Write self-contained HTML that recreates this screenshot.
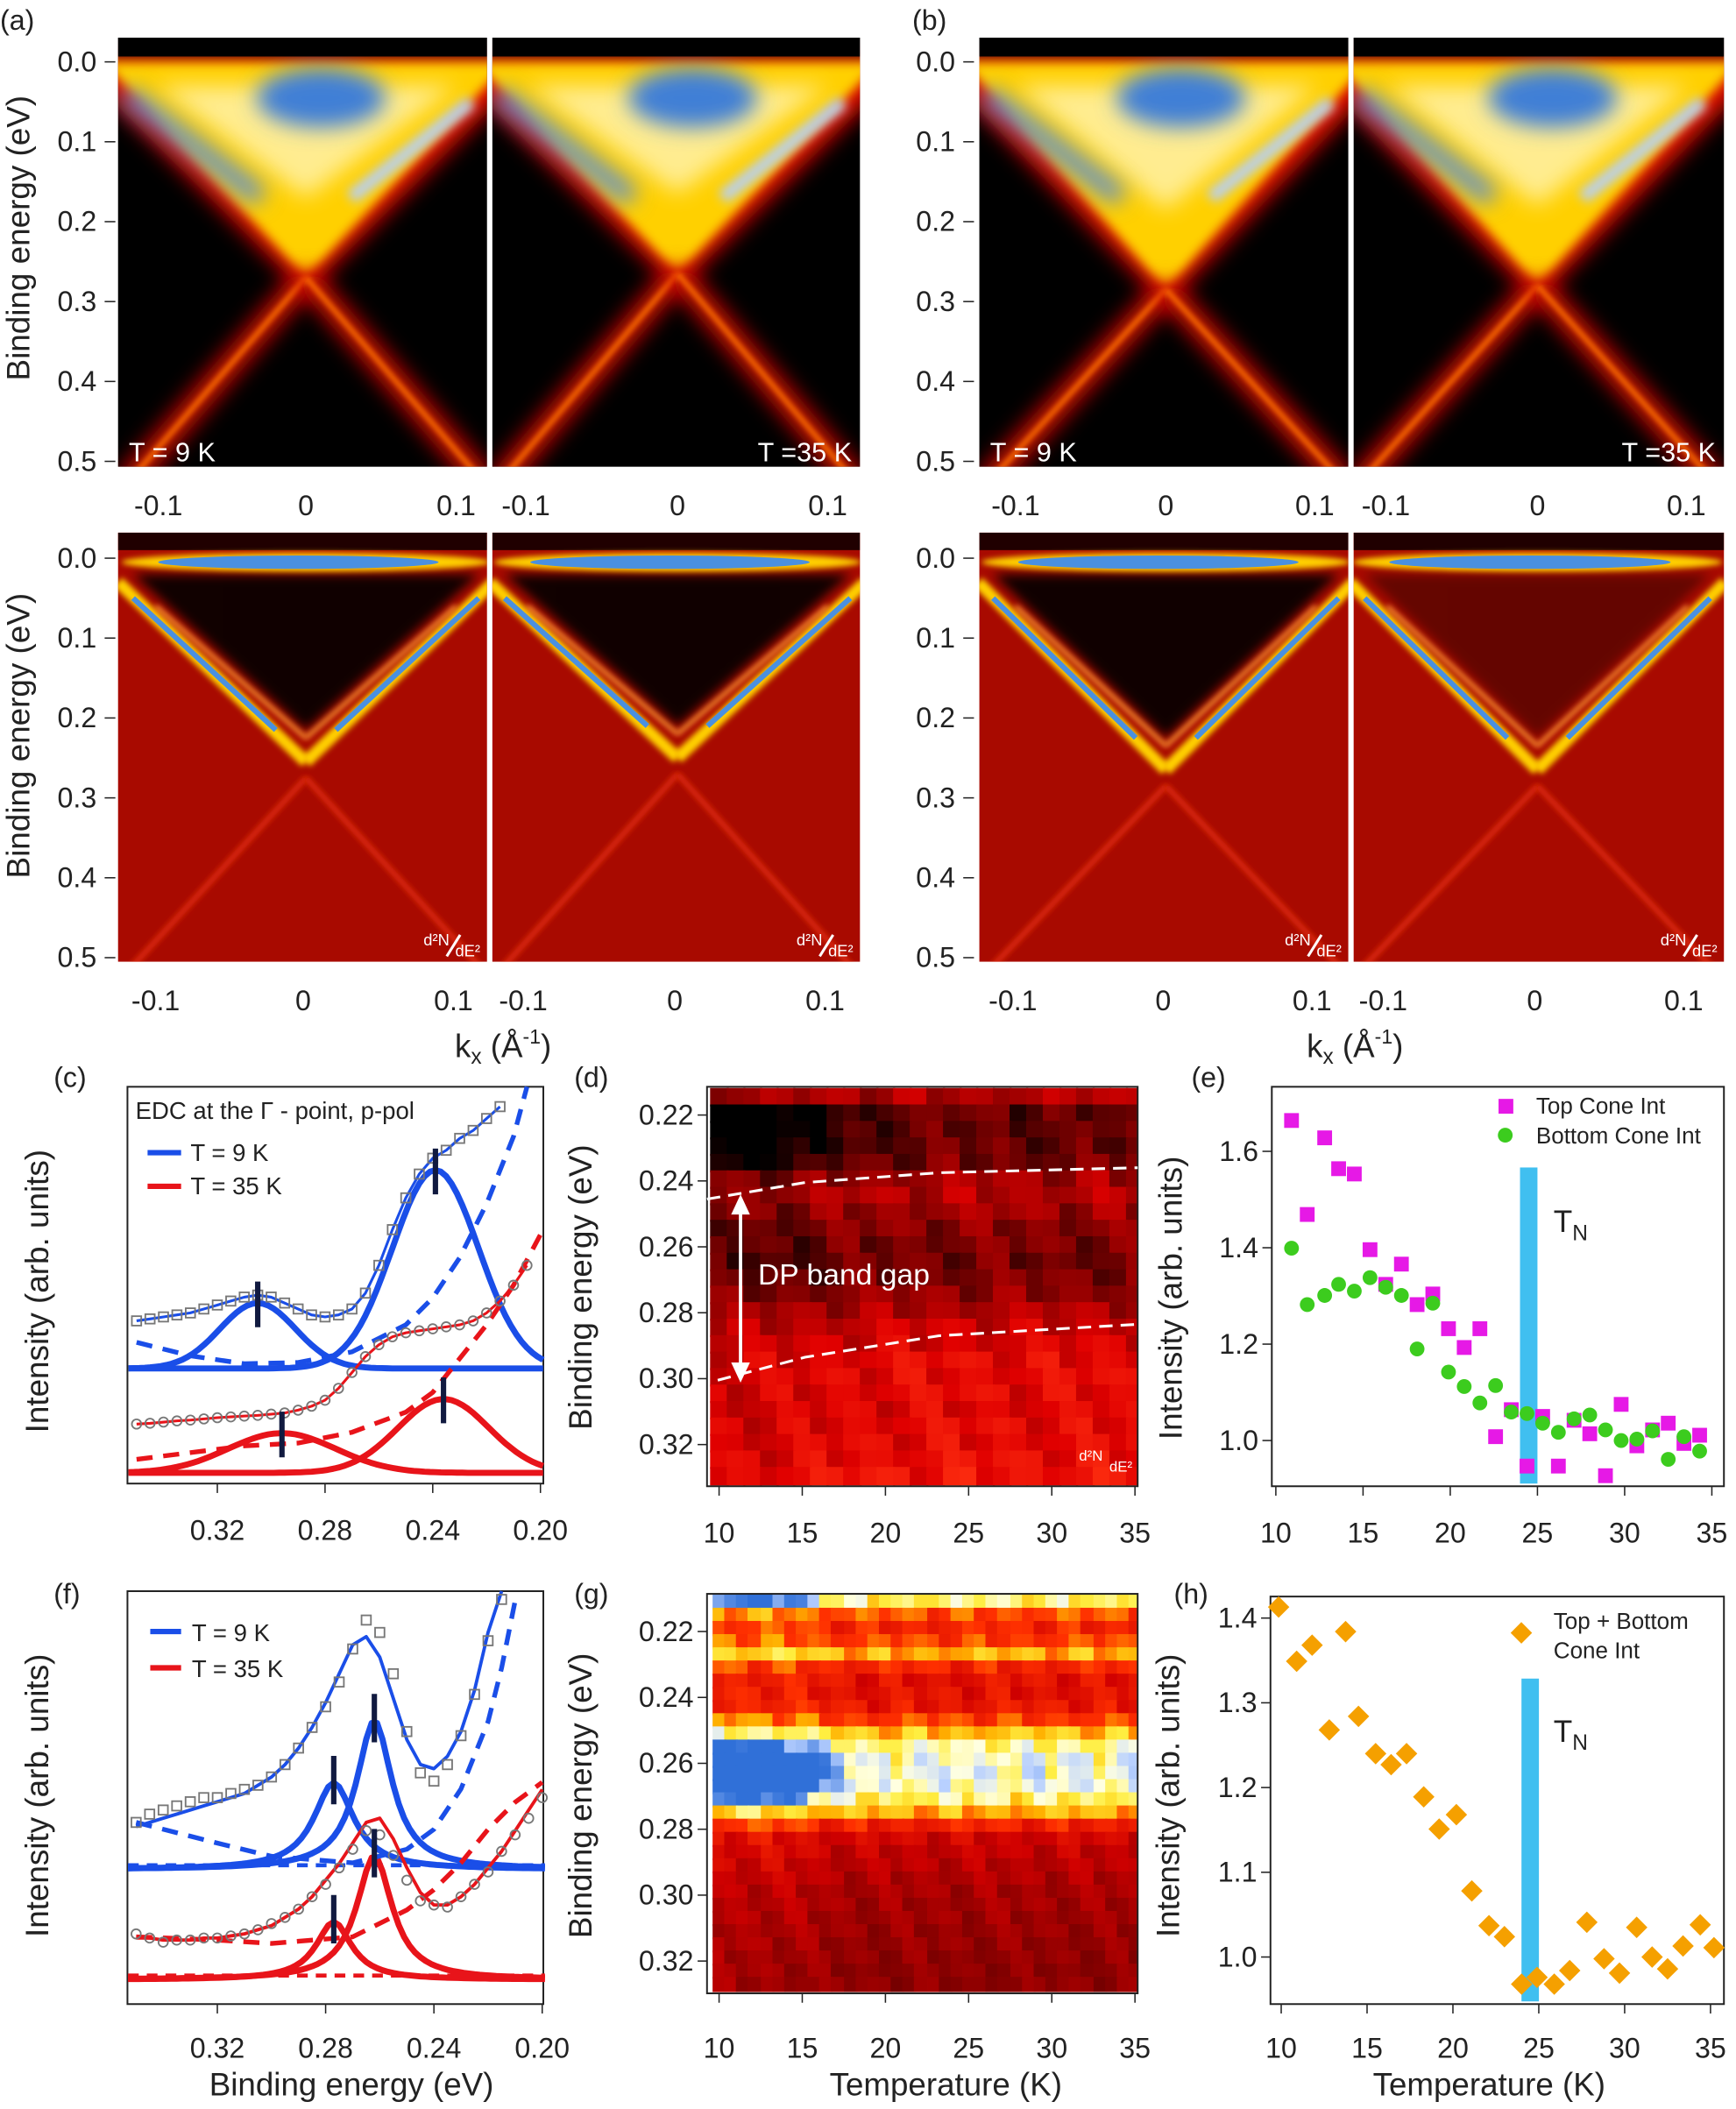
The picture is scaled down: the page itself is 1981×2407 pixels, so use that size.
<!DOCTYPE html>
<html><head><meta charset="utf-8"><title>ARPES figure</title>
<style>
html,body{margin:0;padding:0;background:#fff;}
svg{display:block;}
text{font-family:"Liberation Sans",sans-serif;}
</style></head>
<body>
<svg id="fig" width="1981" height="2407" viewBox="0 0 1294 1568" preserveAspectRatio="none" xmlns="http://www.w3.org/2000/svg">
<defs>
<filter id="b2" x="-50%" y="-50%" width="200%" height="200%"><feGaussianBlur stdDeviation="2"/></filter>
<filter id="b4" x="-50%" y="-50%" width="200%" height="200%"><feGaussianBlur stdDeviation="4"/></filter>
<filter id="b8" x="-50%" y="-50%" width="200%" height="200%"><feGaussianBlur stdDeviation="8"/></filter>
</defs>
</svg>
<script>
// ---------------- DATA ----------------
const eT=[10.9,11.8,12.8,13.6,14.5,15.4,16.3,17.2,18.1,19.0,19.9,20.8,21.7,22.6,23.5,24.4,25.3,26.2,27.1,28.0,28.9,29.8,30.7,31.6,32.5,33.4,34.3];
const eTop=[1.664,1.469,1.628,1.564,1.553,1.396,1.324,1.366,1.282,1.304,1.232,1.193,1.232,1.008,1.064,0.947,1.05,0.947,1.042,1.014,0.927,1.075,0.989,1.022,1.036,0.994,1.011];
const eBot=[1.399,1.282,1.301,1.324,1.31,1.338,1.318,1.301,1.19,1.285,1.142,1.112,1.078,1.114,1.059,1.056,1.036,1.017,1.045,1.053,1.022,1.0,1.003,1.02,0.961,1.008,0.978];
const eTicksY=[1.0,1.2,1.4,1.6];
const tTicks=[10,15,20,25,30,35];
const hT=[9.85,10.9,11.8,12.8,13.75,14.5,15.5,16.4,17.3,18.3,19.2,20.2,21.1,22.1,23.0,24.0,24.9,25.9,26.8,27.8,28.8,29.7,30.7,31.6,32.5,33.4,34.4,35.2];
const hVal=[1.413,1.349,1.368,1.268,1.384,1.284,1.24,1.227,1.24,1.189,1.151,1.168,1.078,1.037,1.024,0.968,0.976,0.968,0.984,1.041,0.998,0.981,1.035,1.0,0.986,1.013,1.038,1.011];
const hTicksY=[1.0,1.1,1.2,1.3,1.4];
const TN=24.5;
const cEticks=[0.32,0.28,0.24,0.20];
const cBlueE0=0.35;
const cBlueData=[.41,.415,.42,.425,.43,.44,.45,.46,.47,.475,.47,.455,.44,.425,.42,.425,.44,.48,.55,.64,.72,.78,.82,.84,.87,.89,.92,.95];
const cRedData=[.15,.152,.155,.158,.16,.163,.166,.168,.17,.172,.175,.178,.185,.195,.21,.24,.28,.32,.35,.37,.38,.385,.39,.395,.40,.41,.43,.46,.50,.55];
const cBlueCenters=[0.305,0.239], cBlueAmps=[0.165,0.50], cBlueWidths=[0.014,0.016], cBlueBase=0.29;
const cRedCenters=[0.296,0.236], cRedAmps=[0.10,0.186], cRedWidths=[0.02,0.017], cRedBase=0.027;
const cBgE=[0.35,0.33,0.31,0.29,0.27,0.25,0.24,0.23,0.22,0.21,0.205];
const cBlueBg=[.356,.322,.302,.305,.332,.4,.468,.569,.705,.875,1.0];
const cRedBgE=[0.35,0.33,0.31,0.29,0.27,0.25,0.24,0.23,0.22,0.21,0.20];
const cRedBg=[.061,.078,.095,.102,.129,.18,.23,.315,.4,.5,.627];
const fBlueData=[.44,.46,.47,.48,.49,.50,.50,.51,.52,.53,.55,.58,.62,.67,.72,.78,.86,.93,.90,.80,.66,.56,.54,.58,.65,.75,.88,.98];
const fBlueFit=[.43,.44,.45,.46,.47,.48,.49,.5,.51,.53,.55,.58,.62,.67,.73,.80,.87,.89,.84,.74,.64,.58,.57,.6,.66,.76,.9,1.0];
const fRedData=[.17,.16,.15,.155,.155,.16,.16,.165,.17,.18,.195,.21,.23,.26,.29,.33,.375,.42,.41,.36,.30,.25,.24,.235,.26,.29,.32,.37,.41,.45,.50];
const fRedFit=[.16,.16,.155,.155,.155,.16,.16,.165,.17,.18,.19,.21,.23,.26,.3,.34,.39,.44,.45,.40,.33,.27,.24,.24,.26,.29,.33,.37,.42,.47,.52];
const fBlueCenters=[0.277,0.262], fBlueAmps=[0.21,0.36], fBlueW=[0.009,0.008], fBlueBase=0.326;
const fRedCenters=[0.277,0.262], fRedAmps=[0.14,0.30], fRedW=[0.008,0.008], fRedBase=0.059;
const fBlueBgE=[0.35,0.32,0.30,0.27,0.25,0.24,0.23,0.22,0.215,0.21];
const fBlueBg=[.44,.39,.358,.342,.375,.423,.521,.684,.814,.977];
const fRedBgE=[0.35,0.32,0.30,0.27,0.25,0.24,0.23,0.22,0.21,0.20];
const fRedBg=[.163,.155,.147,.163,.228,.277,.342,.423,.489,.537];
const dRowE0=0.2145, dRowStep=0.005;
const dRowProfile=[0.35,0.08,0.08,0.1,0.15,0.3,0.35,0.3,0.25,0.22,0.2,0.22,0.28,0.35,0.42,0.45,0.5,0.5,0.5,0.48,0.5,0.5,0.52,0.55];
const dRowSens=[0.1,0.6,0.6,0.5,0.4,0.2,0.15,0.15,0.15,0.15,0.15,0.15,0.1,0.1,0.1,0.1,0.1,0.1,0.1,0.1,0.1,0.1,0.1,0.1];
const dColT=[10,11,12,13,14,15,16,17,18,19,20,21,22,23,24,25,26,27,28,29,30,31,32,33,34,35];
const dColBright=[-0.3,-0.3,-0.3,-0.3,-0.25,-0.2,-0.1,0,0.1,0.1,0.15,0.2,0.15,0.2,0.25,0.2,0.2,0.25,0.15,0.2,0.2,0.1,0.2,0.25,0.15,0.2];
const texture=[-0.06,0.04,0.1,-0.02,0.07,-0.08,0.0,0.05,-0.04,0.09,-0.1,0.03,0.06,-0.05,0.02,-0.03,0.08];
const dTicksY=[0.22,0.24,0.26,0.28,0.30,0.32];
const gRowE0=0.211, gRowStep=0.004;
const gRowProfile=[0.8,0.62,0.56,0.6,0.7,0.56,0.5,0.5,0.52,0.6,0.72,0.82,0.86,0.87,0.86,0.8,0.7,0.55,0.45,0.42,0.4,0.38,0.36,0.35,0.34,0.33,0.32,0.31,0.3,0.3];
const gRowSens=[0.6,0.2,0.15,0.15,0.15,0.15,0.15,0.15,0.15,0.2,0.3,0.6,1,1,1,0.6,0.2,0.15,0.15,0.15,0.15,0.15,0.15,0.15,0.15,0.15,0.15,0.15,0.15,0.15];
const gColT=[10,10.7,11.4,12.1,12.9,13.6,14.3,15,15.7,16.4,17.1,17.9,18.6,19.3,20,20.7,21.4,22.1,22.9,23.6,24.3,25,25.7,26.4,27.1,27.9,28.6,29.3,30,30.7,31.4,32.1,32.9,33.6,34.3,35];
const gColShift=[0.08,0.08,0.08,0.07,0.08,0.07,0.07,0.06,0.04,0.02,0.01,0,0,-0.01,0,-0.01,0,0,-0.01,0,0,-0.01,0,0,0,-0.01,0,0,-0.01,0,0,0,-0.01,0,0,0];

// ---------------- HELPERS ----------------
const NS='http://www.w3.org/2000/svg';
const svg=document.getElementById('fig');
function mk(tag,attrs,parent,name){
  const e=document.createElementNS(NS,tag);
  for(const k in attrs) e.setAttribute(k,attrs[k]);
  
  
  (parent||svg).appendChild(e); return e;
}
function txt(x,y,s,size,anchor,parent,name,extra){
  const t=mk('text',Object.assign({x:x,y:y,'font-size':size,'text-anchor':anchor||'middle',fill:'#222'},extra||{}),parent,name);
  t.textContent=s; return t;
}
function lin(d0,d1,r0,r1){return v=>r0+(v-d0)/(d1-d0)*(r1-r0);}
function hex(c){return [parseInt(c.slice(1,3),16),parseInt(c.slice(3,5),16),parseInt(c.slice(5,7),16)];}
function cmapMake(stops){return v=>{v=Math.max(0,Math.min(1,v));
  for(let i=0;i<stops.length-1;i++){const [a,ca]=stops[i],[b,cb]=stops[i+1];
    if(v<=b){const t=(v-a)/(b-a),A=hex(ca),B=hex(cb);
      return 'rgb('+A.map((q,k)=>Math.round(q+t*(B[k]-q))).join(',')+')';}}
  return stops[stops.length-1][1];};}
const cmapRed=cmapMake([[0,'#000000'],[0.3,'#900000'],[0.5,'#e00000'],[0.7,'#ff3010'],[1,'#ffb000']]);
const cmapFull=cmapMake([[0,'#300000'],[0.3,'#8a0000'],[0.45,'#d00000'],[0.6,'#ff3000'],[0.7,'#ffb000'],[0.78,'#ffee40'],[0.85,'#ffffe0'],[0.92,'#b8d0ff'],[1,'#3070d8']]);

let clipN=0;
function clipFor(x0,y0,w,h){const id='cl'+(clipN++);
  const defs=svg.querySelector('defs');
  const cp=mk('clipPath',{id:id},defs,'clip-region');
  mk('rect',{x:x0,y:y0,width:w,height:h},cp,'clip-rect'); return 'url(#'+id+')';}
function pts(a){return a.map(p=>p[0].toFixed(1)+','+p[1].toFixed(1)).join(' ');}

function arpesTop(x0,x1,y0,y1,cx,e0,dp,label,right,name){
  const g=mk('g',{},svg,name);
  mk('rect',{x:x0,y:y0,width:x1-x0,height:y1-y0,fill:'#000'},g,'image-background');
  const inner=mk('g',{'clip-path':clipFor(x0,y0,x1-x0,y1-y0)},g,'image-content');
  const X=k=>cx+k*1120, Y=e=>e0+e*594;
  mk('polygon',{points:pts([[X(0),Y(dp+0.02)],[X(-0.16),Y(-0.01)],[X(0.16),Y(-0.01)]]),fill:'#e01000',filter:'url(#b8)'},inner,'upper-cone-halo');
  mk('polygon',{points:pts([[X(0),Y(dp)],[X(-0.135),Y(0.0)],[X(0.135),Y(0.0)]]),fill:'#ffd000',filter:'url(#b4)'},inner,'upper-cone');
  mk('polygon',{points:pts([[X(0),Y(dp-0.1)],[X(-0.1),Y(0.03)],[X(0.1),Y(0.03)]]),fill:'#fff6c0',opacity:0.75,filter:'url(#b8)'},inner,'upper-cone-core');
  mk('line',{x1:X(-0.03),y1:Y(0.17),x2:X(-0.12),y2:Y(0.04),stroke:'#5a8ed8',"stroke-width":14,filter:'url(#b8)'},inner,'blue-band-left');
  mk('line',{x1:X(0.03),y1:Y(0.17),x2:X(0.11),y2:Y(0.05),stroke:'#b8d0f4',"stroke-width":10,filter:'url(#b4)'},inner,'blue-band-right');
  mk('ellipse',{cx:X(0.01),cy:Y(0.045),rx:48,ry:22,fill:'#3f7fd6',filter:'url(#b8)'},inner,'blue-pocket');
  [-1,1].forEach(s=>{
    mk('line',{x1:X(0),y1:Y(dp),x2:X(s*0.12),y2:Y(0.53),stroke:'#d01000',"stroke-width":18,filter:'url(#b8)'},inner,'lower-cone-halo');
    mk('line',{x1:X(0),y1:Y(dp),x2:X(s*0.12),y2:Y(0.53),stroke:'#ff7000',"stroke-width":4,filter:'url(#b2)'},inner,'lower-cone-branch');
  });
  mk('rect',{x:x0,y:y0,width:x1-x0,height:Y(0)-y0-4,fill:'#000'},inner,'fermi-edge-band');
  if(right) txt(x1-6,y1-4,label,20,'end',g,'temperature-label',{fill:'#fff'});
  else txt(x0+8,y1-4,label,20,'start',g,'temperature-label',{fill:'#fff'});
}
function arpesBot(x0,x1,y0,y1,cx,e0,dp,open,name){
  const g=mk('g',{},svg,name);
  mk('rect',{x:x0,y:y0,width:x1-x0,height:y1-y0,fill:'#a80a00'},g,'image-background');
  const inner=mk('g',{'clip-path':clipFor(x0,y0,x1-x0,y1-y0)},g,'image-content');
  const X=k=>cx+k*1120, Y=e=>e0+e*594;
  mk('polygon',{points:pts([[X(0),Y(dp-0.06)],[X(-0.115),Y(0.02)],[X(0.115),Y(0.02)]]),fill:'#000',opacity:open,filter:'url(#b4)'},inner,'cone-interior');
  [-1,1].forEach(s=>{
    mk('line',{x1:X(0),y1:Y(dp-0.02),x2:X(s*0.125),y2:Y(0.03),stroke:'#ffd000',"stroke-width":9,filter:'url(#b2)'},inner,'cone-edge');
    mk('line',{x1:X(s*0.02),y1:Y(dp-0.06),x2:X(s*0.115),y2:Y(0.05),stroke:'#4a90e0',"stroke-width":4},inner,'cone-edge-blue');
    mk('line',{x1:X(0),y1:Y(dp-0.05),x2:X(s*0.1),y2:Y(0.06),stroke:'#ff9a30',"stroke-width":3,filter:'url(#b2)'},inner,'inner-cone-edge');
    mk('line',{x1:X(0),y1:Y(dp),x2:X(s*0.12),y2:Y(0.52),stroke:'#e02a10',"stroke-width":4,filter:'url(#b2)'},inner,'lower-cone-branch');
  });
  mk('rect',{x:x0,y:y0,width:x1-x0,height:Y(0)-y0-6,fill:'#200000'},inner,'top-band');
  mk('ellipse',{cx:X(0),cy:Y(0.005),rx:(x1-x0)*0.5,ry:7,fill:'#ffd000',filter:'url(#b2)'},inner,'fermi-level-edge');
  mk('ellipse',{cx:X(-0.005),cy:Y(0.005),rx:(x1-x0)*0.38,ry:5,fill:'#4a90e0'},inner,'fermi-level-pocket');
  txt(x1-28,y1-12,'d²N',12,'end',g,'second-derivative-label',{fill:'#fff'});
  txt(x1-5,y1-4,'dE²',12,'end',g,'second-derivative-label',{fill:'#fff'});
  mk('line',{x1:x1-30,y1:y1-4,x2:x1-20,y2:y1-20,stroke:'#fff',"stroke-width":2},g,'fraction-slash');
}
function arpesAxes(xL,y0,ticks,tickY,xlabels,name){
  const g=mk('g',{},svg,name);
  ticks.forEach((v,i)=>{const y=y0+v*594;
    txt(xL,y+7,v.toFixed(1),21,'end',g,'y-tick-label');
    mk('line',{x1:xL+6,y1:y,x2:xL+14,y2:y,stroke:'#222'},g,'y-tick');});
  xlabels.forEach(([x,s])=>txt(x,tickY,s,21,'middle',g,'x-tick-label'));
}
const eTicksArp=[0,0.1,0.2,0.3,0.4,0.5];
arpesTop(88,363,28,347,228,46,0.27,'T = 9 K',false,'panel-a-top-9K');
arpesTop(367,641,28,347,505,46,0.265,'T =35 K',true,'panel-a-top-35K');
arpesTop(730,1005,28,347,869,46,0.285,'T = 9 K',false,'panel-b-top-9K');
arpesTop(1009,1285,28,347,1146,46,0.28,'T =35 K',true,'panel-b-top-35K');
arpesBot(88,363,396,715,228,415,0.275,0.9,'panel-a-bottom-9K');
arpesBot(367,641,396,715,505,415,0.27,0.9,'panel-a-bottom-35K');
arpesBot(730,1005,396,715,869,415,0.285,0.9,'panel-b-bottom-9K');
arpesBot(1009,1285,396,715,1146,415,0.285,0.4,'panel-b-bottom-35K');
const xlA=[[118,'-0.1'],[228,'0'],[340,'0.1'],[392,'-0.1'],[505,'0'],[617,'0.1']];
const xlB=[[757,'-0.1'],[869,'0'],[980,'0.1'],[1033,'-0.1'],[1146,'0'],[1257,'0.1']];
arpesAxes(72,46,eTicksArp,383,xlA,'panel-a-top-axes');
arpesAxes(712,46,eTicksArp,383,xlB,'panel-b-top-axes');
arpesAxes(72,415,eTicksArp,751,xlA.map(([x,s])=>[x-2,s]),'panel-a-bottom-axes');
arpesAxes(712,415,eTicksArp,751,xlB.map(([x,s])=>[x-2,s]),'panel-b-bottom-axes');
[[14,185],[14,555]].forEach(([x,y])=>txt(x,y,'Binding energy (eV)',24,'middle',svg,'y-axis-title',{transform:'rotate(-90 '+x+' '+(y-8)+')',y:y}));
[375,1010].forEach(x=>{const t=txt(x,786,'k',24,'middle',svg,'x-axis-title');
  const s1=mk('tspan',{'font-size':16,dy:5},t,'subscript');s1.textContent='x';
  const s2=mk('tspan',{dy:-5},t,'unit');s2.textContent=' (Å';
  const s3=mk('tspan',{'font-size':15,dy:-10},t,'superscript');s3.textContent='-1';
  const s4=mk('tspan',{dy:10},t,'unit-close');s4.textContent=')';});
[[0,22,'(a)'],[680,22,'(b)'],[40,808,'(c)'],[428,808,'(d)'],[888,808,'(e)'],[40,1192,'(f)'],[428,1192,'(g)'],[875,1192,'(h)']]
 .forEach(([x,y,s])=>txt(x,y,s,21,'start',svg,'panel-label'));

function box(x0,y0,x1,y1,g){mk('rect',{x:x0,y:y0,width:x1-x0,height:y1-y0,fill:'none',stroke:'#222',"stroke-width":1.3},g,'plot-frame');}
function yTicks(g,x0,vals,sy,fmt){vals.forEach(v=>{const y=sy(v);
  mk('line',{x1:x0,y1:y,x2:x0-7,y2:y,stroke:'#222'},g,'y-tick');
  txt(x0-10,y+7,fmt(v),21,'end',g,'y-tick-label');});}
function xTicks(g,y1,vals,sx,fmt,ly){vals.forEach(v=>{const x=sx(v);
  mk('line',{x1:x,y1:y1,x2:x,y2:y1+7,stroke:'#222'},g,'x-tick');
  txt(x,ly,fmt(v),21,'middle',g,'x-tick-label');});}
function rotTitle(x,y,s,g){txt(x,y,s,24,'middle',g,'y-axis-title',{transform:'rotate(-90 '+x+' '+y+')'});}
function poly(g,xs,ys,color,w,dash,name){
  const p=xs.map((x,i)=>x.toFixed(1)+','+ys[i].toFixed(1)).join(' ');
  const a={points:p,fill:'none',stroke:color,"stroke-width":w,"stroke-linejoin":'round'};
  if(dash) a['stroke-dasharray']=dash;
  return mk('polyline',a,g,name);}
function range(a,b,st){const r=[];for(let v=a;v>=b-1e-9;v-=st)r.push(+v.toFixed(4));return r;}

// panel c
(function(){
  const g=mk('g',{},svg,'panel-c');
  const X=E=>162+(0.32-E)*2007, Y=I=>1103-I*295;
  box(95,808,405,1103,g);
  xTicks(g,1103,cEticks,X,v=>v.toFixed(2),1145);
  rotTitle(36,960,'Intensity (arb. units)',g);
  const Es=range(0.353,0.199,0.002);
  const gauss=(E,c,a,w)=>a*Math.exp(-0.5*((E-c)/w)**2);
  [[cBlueCenters,cBlueAmps,cBlueWidths,cBlueBase,'#1a4ee8'],[cRedCenters,cRedAmps,cRedWidths,cRedBase,'#e8141a']].forEach(([cs,as,ws,b,col])=>{
    cs.forEach((c,k)=>poly(g,Es.map(X),Es.map(E=>Y(b+gauss(E,c,as[k],ws[k]))),col,4.5,null,'fit-component'));
  });
  poly(g,cBgE.map(X),cBlueBg.map(Y),'#1a4ee8',3.5,'12 8','blue-background-fit');
  poly(g,cRedBgE.map(X),cRedBg.map(Y),'#e8141a',3.5,'12 8','red-background-fit');
  const bE=cBlueData.map((_,i)=>cBlueE0-i*0.005), rE=cRedData.map((_,i)=>cBlueE0-i*0.005);
  poly(g,bE.map(X),cBlueData.map(Y),'#1a4ee8',2,null,'blue-total-fit');
  poly(g,rE.map(X),cRedData.map(Y),'#e8141a',2,null,'red-total-fit');
  bE.forEach((E,i)=>{mk('rect',{x:X(E)-3.5,y:Y(cBlueData[i])-3.5,width:7,height:7,fill:'none',stroke:'#777',"stroke-width":1.2},g,'blue-data-point');});
  rE.forEach((E,i)=>{mk('circle',{cx:X(E),cy:Y(cRedData[i]),r:3.5,fill:'none',stroke:'#777',"stroke-width":1.2},g,'red-data-point');});
  [[cBlueCenters,cBlueAmps,cBlueBase],[cRedCenters,cRedAmps,cRedBase]].forEach(([cs,as,b])=>cs.forEach((c,k)=>{
    const yy=Y(b+as[k]);mk('line',{x1:X(c),y1:yy-16,x2:X(c),y2:yy+18,stroke:'#111a40',"stroke-width":4},g,'peak-marker');}));
  txt(101,832,'EDC at the Γ - point, p-pol',18,'start',g,'legend-title');
  mk('line',{x1:110,y1:857,x2:135,y2:857,stroke:'#1a4ee8',"stroke-width":4},g,'legend-line-9K');
  txt(142,863,'T = 9 K',18,'start',g,'legend-label-9K');
  mk('line',{x1:110,y1:882,x2:135,y2:882,stroke:'#e8141a',"stroke-width":4},g,'legend-line-35K');
  txt(142,888,'T = 35 K',18,'start',g,'legend-label-35K');
})();

// panel f
(function(){
  const g=mk('g',{},svg,'panel-f');
  const X=E=>162+(0.32-E)*2018, Y=I=>1490-I*307;
  box(95,1183,405,1490,g);
  xTicks(g,1490,cEticks,X,v=>v.toFixed(2),1530);
  rotTitle(36,1335,'Intensity (arb. units)',g);
  txt(262,1558,'Binding energy (eV)',24,'middle',g,'x-axis-title');
  const Es=range(0.353,0.199,0.002);
  const lor=(E,c,a,w)=>a/(1+((E-c)/w)**2);
  [[fBlueCenters,fBlueAmps,fBlueW,fBlueBase,'#1a4ee8'],[fRedCenters,fRedAmps,fRedW,fRedBase,'#e8141a']].forEach(([cs,as,ws,b,col])=>{
    cs.forEach((c,k)=>poly(g,Es.map(X),Es.map(E=>Y(b+lor(E,c,as[k],ws[k]))),col,4.5,null,'fit-component'));
    poly(g,Es.map(X),Es.map(E=>Y(b+0.01)),col,3,'8 6','flat-background');
  });
  poly(g,fBlueBgE.map(X),fBlueBg.map(Y),'#1a4ee8',3.5,'12 8','blue-background-fit');
  poly(g,fRedBgE.map(X),fRedBg.map(Y),'#e8141a',3.5,'12 8','red-background-fit');
  const bE=fBlueFit.map((_,i)=>0.35-i*0.005), rE=fRedFit.map((_,i)=>0.35-i*0.005);
  poly(g,bE.map(X),fBlueFit.map(Y),'#1a4ee8',2.5,null,'blue-total-fit');
  poly(g,rE.map(X),fRedFit.map(Y),'#e8141a',2.5,null,'red-total-fit');
  fBlueData.forEach((v,i)=>{mk('rect',{x:X(0.35-i*0.005)-3.5,y:Y(v)-3.5,width:7,height:7,fill:'none',stroke:'#777',"stroke-width":1.2},g,'blue-data-point');});
  fRedData.forEach((v,i)=>{mk('circle',{cx:X(0.35-i*0.005),cy:Y(v),r:3.5,fill:'none',stroke:'#777',"stroke-width":1.2},g,'red-data-point');});
  [[fBlueCenters,fBlueAmps,fBlueBase],[fRedCenters,fRedAmps,fRedBase]].forEach(([cs,as,b])=>cs.forEach((c,k)=>{
    const yy=Y(b+as[k]);mk('line',{x1:X(c),y1:yy-20,x2:X(c),y2:yy+16,stroke:'#111a40',"stroke-width":4},g,'peak-marker');}));
  mk('line',{x1:112,y1:1213,x2:135,y2:1213,stroke:'#1a4ee8',"stroke-width":4},g,'legend-line-9K');
  txt(143,1220,'T = 9 K',18,'start',g,'legend-label-9K');
  mk('line',{x1:112,y1:1240,x2:135,y2:1240,stroke:'#e8141a',"stroke-width":4},g,'legend-line-35K');
  txt(143,1247,'T = 35 K',18,'start',g,'legend-label-35K');
})();

// heatmaps
function heat(name,x0,y0,x1,y1,Xs,Ys,rowE0,rowStep,prof,sens,colT,colVal,cmap,sensMode){
  const g=mk('g',{},svg,name);
  const inner=mk('g',{'clip-path':clipFor(x0,y0,x1-x0,y1-y0)},g,'heatmap-cells');
  const dT=colT[1]-colT[0];
  prof.forEach((p,i)=>{const E=rowE0+i*rowStep;
    colT.forEach((T,j)=>{
      const v=p+colVal[j]*sens[i]*(sensMode?4:1)+texture[(i*7+j*3)%texture.length]*(sensMode?0.6:1);
      const xa=Xs(T-dT/2), xb=Xs(T+dT/2), ya=Ys(E-rowStep/2), yb=Ys(E+rowStep/2);
      mk('rect',{x:xa-0.5,y:ya-0.5,width:xb-xa+1.5,height:yb-ya+1.5,fill:cmap(v)},inner,'heatmap-cell');
    });});
  box(x0,y0,x1,y1,g); return g;
}
(function(){
  const Xs=lin(10,35,536,846), Ys=lin(0.22,0.32,829,1074);
  const g=heat('panel-d',527,808,848,1105,Xs,Ys,dRowE0,dRowStep,dRowProfile,dRowSens,dColT,dColBright,cmapRed,false);
  yTicks(g,527,dTicksY,Ys,v=>v.toFixed(2));
  xTicks(g,1105,tTicks,Xs,v=>String(v),1147);
  rotTitle(441,957,'Binding energy (eV)',g);
  poly(g,[527,600,700,848],[Ys(0.2455),Ys(0.2405),Ys(0.2375),Ys(0.236)],'#fff',2,'10 6','gap-upper-edge');
  poly(g,[535,600,700,848],[Ys(0.3005),Ys(0.2935),Ys(0.287),Ys(0.2835)],'#fff',2,'10 6','gap-lower-edge');
  mk('line',{x1:552,y1:898,x2:552,y2:1018,stroke:'#fff',"stroke-width":2.5},g,'gap-arrow');
  mk('polygon',{points:'552,888 545,903 559,903',fill:'#fff'},g,'gap-arrow-head-top');
  mk('polygon',{points:'552,1028 545,1013 559,1013',fill:'#fff'},g,'gap-arrow-head-bottom');
  txt(565,955,'DP band gap',22,'start',g,'gap-annotation',{fill:'#fff'});
  txt(822,1086,'d²N',11,'end',g,'second-derivative-label',{fill:'#fff'});
  txt(844,1094,'dE²',11,'end',g,'second-derivative-label',{fill:'#fff'});
})();
(function(){
  const Xs=lin(10,35,536,846), Ys=lin(0.22,0.32,1213,1458);
  const g=heat('panel-g',527,1185,848,1482,Xs,Ys,gRowE0,gRowStep,gRowProfile,gRowSens,gColT,gColShift,cmapFull,true);
  yTicks(g,527,dTicksY,Ys,v=>v.toFixed(2));
  xTicks(g,1482,tTicks,Xs,v=>String(v),1530);
  rotTitle(441,1335,'Binding energy (eV)',g);
  txt(705,1558,'Temperature (K)',24,'middle',g,'x-axis-title');
})();

// panel e
(function(){
  const g=mk('g',{},svg,'panel-e');
  const X=lin(10,35,951,1276), Y=lin(1.0,1.6,1071,856);
  box(948,808,1285,1105,g);
  mk('rect',{x:X(TN)-6.5,y:868,width:13,height:235,fill:'#40bff0'},g,'neel-temperature-bar');
  yTicks(g,948,eTicksY,Y,v=>v.toFixed(1));
  xTicks(g,1105,tTicks,X,v=>String(v),1147);
  rotTitle(881,965,'Intensity (arb. units)',g);
  eT.forEach((T,i)=>{mk('rect',{x:X(T)-5.5,y:Y(eTop[i])-5.5,width:11,height:11,fill:'#e619e6'},g,'top-cone-point');});
  eT.forEach((T,i)=>{mk('circle',{cx:X(T),cy:Y(eBot[i]),r:5.5,fill:'#3ccc1e'},g,'bottom-cone-point');});
  mk('rect',{x:1117,y:817,width:11,height:11,fill:'#e619e6'},g,'legend-marker-top');
  txt(1145,828,'Top Cone Int',17,'start',g,'legend-label-top');
  mk('circle',{cx:1122,cy:844,r:5.5,fill:'#3ccc1e'},g,'legend-marker-bottom');
  txt(1145,850,'Bottom Cone Int',17,'start',g,'legend-label-bottom');
  const t=txt(1158,916,'T',23,'start',g,'neel-label');const s=mk('tspan',{'font-size':16,dy:6},t,'neel-subscript');s.textContent='N';
})();

// panel h
(function(){
  const g=mk('g',{},svg,'panel-h');
  const X=lin(10,35,955,1275), Y=lin(1.0,1.4,1455,1203);
  box(947,1187,1285,1490,g);
  mk('rect',{x:X(TN)-6.5,y:1248,width:13,height:240,fill:'#40bff0'},g,'neel-temperature-bar');
  yTicks(g,947,hTicksY,Y,v=>v.toFixed(1));
  xTicks(g,1490,tTicks,X,v=>String(v),1530);
  rotTitle(879,1335,'Intensity (arb. units)',g);
  txt(1110,1558,'Temperature (K)',24,'middle',g,'x-axis-title');
  hT.forEach((T,i)=>{const x=X(T),y=Y(hVal[i]);
    mk('polygon',{points:x+','+(y-8)+' '+(x+8)+','+y+' '+x+','+(y+8)+' '+(x-8)+','+y,fill:'#f5a000'},g,'combined-cone-point');});
  mk('polygon',{points:'1134,1206 1142,1214 1134,1222 1126,1214',fill:'#f5a000'},g,'legend-marker');
  txt(1158,1211,'Top + Bottom',17,'start',g,'legend-label');
  txt(1158,1233,'Cone Int',17,'start',g,'legend-label-2');
  const t=txt(1158,1295,'T',23,'start',g,'neel-label');const s=mk('tspan',{'font-size':16,dy:6},t,'neel-subscript');s.textContent='N';
})();
</script>
</body></html>
